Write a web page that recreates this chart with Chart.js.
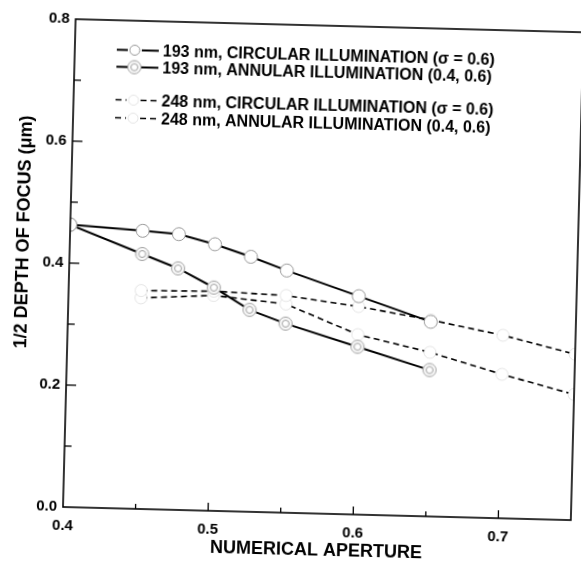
<!DOCTYPE html>
<html><head><meta charset="utf-8">
<script src="https://cdn.jsdelivr.net/npm/chart.js@4/dist/chart.umd.min.js"></script>
<style>
html,body{margin:0;padding:0;background:#fff;overflow:hidden;width:581px;height:563px;}
#wrap{position:absolute;left:0;top:0;width:581px;height:563px;transform:rotate(1.48deg);transform-origin:63px 507px;}
canvas{display:block;}
</style></head><body>
<div id="wrap"><canvas id="c" width="581" height="563"></canvas></div>
<script>
// ---- data ----
const naA  = [0.4, 0.45, 0.475, 0.5, 0.525, 0.55, 0.6, 0.65];
const dofA = [0.463, 0.456, 0.452, 0.437, 0.418, 0.397, 0.358, 0.319];
const naB  = [0.4, 0.45, 0.475, 0.5, 0.525, 0.55, 0.6, 0.65];
const dofB = [0.463, 0.418, 0.396, 0.366, 0.331, 0.310, 0.275, 0.240];
const naC  = [0.45, 0.5, 0.55, 0.6, 0.65, 0.7, 0.75];
const dofC = [0.358, 0.360, 0.356, 0.341, 0.322, 0.300, 0.272];
const naD  = [0.45, 0.5, 0.55, 0.6, 0.65, 0.7, 0.75];
const dofD = [0.346, 0.353, 0.342, 0.295, 0.269, 0.236, 0.206];
const seriesNames = [
  '193 nm, CIRCULAR ILLUMINATION (\u03c3 = 0.6)',
  '193 nm, ANNULAR ILLUMINATION (0.4, 0.6)',
  '248 nm, CIRCULAR ILLUMINATION (\u03c3 = 0.6)',
  '248 nm, ANNULAR ILLUMINATION (0.4, 0.6)'
];
const xTickLabels = ['0.4', '0.5', '0.6', '0.7'];
const yTickLabels = ['0.0', '0.2', '0.4', '0.6', '0.8'];
const xTitle = 'NUMERICAL APERTURE';
const yTitle = '1/2 DEPTH OF FOCUS (\u03bcm)';

const FONT = "'Liberation Sans', Arial, Helvetica, sans-serif";
const zip = (xs, ys) => xs.map((x, i) => ({x: x, y: ys[i]}));

// double-circle marker
function dblCircle() {
  const c = document.createElement('canvas');
  c.width = 16; c.height = 16;
  const g = c.getContext('2d');
  g.fillStyle = '#fff';
  g.beginPath(); g.arc(8, 8, 7, 0, Math.PI * 2); g.fill();
  g.strokeStyle = '#999'; g.lineWidth = 1;
  g.beginPath(); g.arc(8, 8, 6.5, 0, Math.PI * 2); g.stroke();
  g.beginPath(); g.arc(8, 8, 3.5, 0, Math.PI * 2); g.stroke();
  return c;
}
const dbl = dblCircle();

const datasets = [
  {label: seriesNames[0], data: zip(naA, dofA), borderColor: '#000', borderWidth: 2,
   pointStyle: 'circle', pointRadius: 6.5, pointBackgroundColor: '#fff', pointBorderColor: '#999', pointBorderWidth: 1},
  {label: seriesNames[1], data: zip(naB, dofB), borderColor: '#000', borderWidth: 2,
   pointStyle: dbl, pointRadius: 7, pointBackgroundColor: '#fff', pointBorderColor: '#999', pointBorderWidth: 1},
  {label: seriesNames[2], data: zip(naC, dofC), borderColor: '#000', borderWidth: 1.6, borderDash: [6, 4],
   pointStyle: 'circle', pointRadius: 6, pointBackgroundColor: '#fff', pointBorderColor: 'rgba(0,0,0,0.1)', pointBorderWidth: 1},
  {label: seriesNames[3], data: zip(naD, dofD), borderColor: '#000', borderWidth: 1.6, borderDash: [6, 4],
   pointStyle: 'circle', pointRadius: 6, pointBackgroundColor: '#fff', pointBorderColor: 'rgba(0,0,0,0.1)', pointBorderWidth: 1}
];

const framePlugin = {
  id: 'frame',
  afterDraw(chart) {
    const ctx = chart.ctx, a = chart.chartArea;
    const xs = chart.scales.x, ys = chart.scales.y;
    ctx.save();
    ctx.strokeStyle = '#000';
    ctx.lineWidth = 1.6;
    ctx.strokeRect(a.left, a.top, a.right - a.left, a.bottom - a.top);
    ctx.lineWidth = 1.3;
    // x ticks (inward)
    xs.ticks.forEach(t => {
      const major = xTickLabels.includes(t.value.toFixed(2).replace(/0$/, ''));
      const px = xs.getPixelForValue(t.value);
      if (px <= a.left + 1 || px >= a.right - 1) return;
      ctx.beginPath(); ctx.moveTo(px, a.bottom); ctx.lineTo(px, a.bottom - (major ? 8 : 5)); ctx.stroke();
    });
    // y ticks (inward)
    ys.ticks.forEach(t => {
      const major = yTickLabels.includes(t.value.toFixed(1));
      const py = ys.getPixelForValue(t.value);
      if (py >= a.bottom - 1 || py <= a.top + 1) return;
      ctx.beginPath(); ctx.moveTo(a.left, py); ctx.lineTo(a.left + (major ? 10 : 7), py); ctx.stroke();
    });
    // titles
    ctx.fillStyle = '#000';
    ctx.font = 'bold 18px ' + FONT;
    ctx.textAlign = 'center'; ctx.textBaseline = 'middle';
    ctx.fillText(xTitle, (a.left + a.right) / 2, 544);
    ctx.save();
    ctx.translate(17, 233); ctx.rotate(-Math.PI / 2);
    ctx.fillText(yTitle, 0, 0);
    ctx.restore();
    // legend
    const rows = [48.5, 65.5, 98.5, 116.5];
    chart.data.datasets.forEach((ds, i) => {
      const y = rows[i];
      ctx.save();
      ctx.strokeStyle = '#000';
      ctx.lineWidth = ds.borderWidth;
      ctx.setLineDash(ds.borderDash || []);
      ctx.beginPath(); ctx.moveTo(105, y); ctx.lineTo(116, y); ctx.stroke();
      ctx.beginPath(); ctx.moveTo(130, y); ctx.lineTo(147, y); ctx.stroke();
      ctx.setLineDash([]);
      if (ds.pointStyle instanceof HTMLCanvasElement) {
        ctx.drawImage(ds.pointStyle, 123 - 8, y - 8);
      } else {
        ctx.fillStyle = '#fff'; ctx.strokeStyle = ds.pointBorderColor; ctx.lineWidth = 1;
        ctx.beginPath(); ctx.arc(123, y, 5, 0, Math.PI * 2); ctx.fill(); ctx.stroke();
      }
      ctx.fillStyle = '#000';
      ctx.font = 'bold 16px ' + FONT;
      ctx.textAlign = 'left'; ctx.textBaseline = 'middle';
      ctx.fillText(ds.label, 151, y + 1);
      ctx.restore();
    });
    ctx.restore();
  }
};

new Chart(document.getElementById('c'), {
  type: 'line',
  data: {datasets: datasets},
  options: {
    responsive: false,
    animation: false,
    parsing: true,
    layout: {padding: {left: 0, top: 19, right: 3, bottom: 0}},
    plugins: {legend: {display: false}, tooltip: {enabled: false}, title: {display: false}},
    scales: {
      x: {
        type: 'linear', min: 0.4, max: 0.75,
        afterFit: s => { s.height = 56; },
        grid: {display: false, drawTicks: false, tickLength: 0},
        border: {display: false},
        ticks: {
          stepSize: 0.05, padding: 10, color: '#000', maxRotation: 0, autoSkip: false,
          font: {family: FONT, size: 15, weight: 'bold'},
          callback: v => { const s = (Math.round(v * 100) / 100).toFixed(2).replace(/0$/, ''); return xTickLabels.includes(s) ? s : ''; }
        }
      },
      y: {
        type: 'linear', min: 0, max: 0.8,
        afterFit: s => { s.width = 63; },
        grid: {display: false, drawTicks: false, tickLength: 0},
        border: {display: false},
        ticks: {
          stepSize: 0.1, padding: 6, color: '#000', autoSkip: false,
          font: {family: FONT, size: 15, weight: 'bold'},
          callback: v => { const s = (Math.round(v * 10) / 10).toFixed(1); return yTickLabels.includes(s) ? s : ''; }
        }
      }
    }
  },
  plugins: [framePlugin]
});
</script>
</body></html>
